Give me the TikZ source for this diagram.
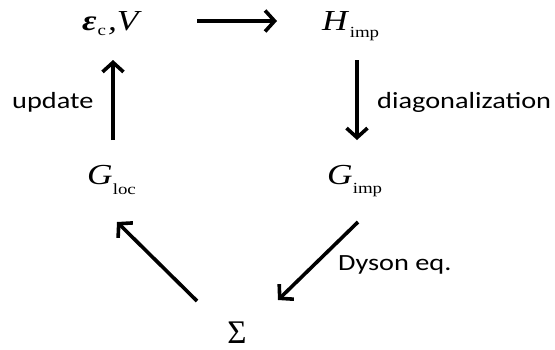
\documentclass[tikz,border=0pt]{standalone}
\usepackage{fontspec}
\usepackage{graphicx}
\setmainfont{Carlito}
\newfontfamily\tms{Liberation Serif}
\usetikzlibrary{arrows.meta,calc}
\newcommand{\mainsym}[1]{\scalebox{1.22}[1]{\fontsize{29}{29}\selectfont\tms\itshape #1}}
\newcommand{\subsym}[1]{\scalebox{1.22}[1]{\fontsize{15.5}{15.5}\selectfont\tms #1}}
\newcommand{\lbltext}[1]{\scalebox{1.22}[1]{\fontsize{23.2}{23.2}\selectfont #1}}
\tikzset{
  mth/.style={inner sep=0pt, anchor=base west},
  lbl/.style={inner sep=0pt, anchor=base west},
  arr/.style={line width=3.6pt, -{Straight Barb[length=9.5pt,width=21pt]}},
}
\begin{document}
\begin{tikzpicture}[x=1pt,y=-1pt]
\fill[white] (0,0) rectangle (555,349);
\useasboundingbox (0,0) rectangle (555,349);
\node[mth] (ev) at (82,30) {\mainsym{\bfseries ε}\hspace{1pt}\raisebox{-5pt}{\subsym{c}}\hspace{2pt}\mainsym{,V}};
\node[mth] (H) at (322,30) {\mainsym{H}\hspace{2pt}\raisebox{-7pt}{\subsym{imp}}};
\node[mth] (Gl) at (87,184) {\mainsym{G}\raisebox{-10pt}{\subsym{loc}}};
\node[mth] (Gi) at (327,184) {\mainsym{G}\raisebox{-9pt}{\subsym{imp}}};
\node[inner sep=0pt, anchor=base] (S) at (237,343) {\fontsize{33}{33}\selectfont\tms Σ};
\node[lbl] (up) at (12,108) {\lbltext{update}};
\node[lbl] (dg) at (377,108) {\lbltext{diagonalization}};
\node[lbl] (dy) at (338,270) {\lbltext{Dyson eq.}};
\draw[arr] ($(ev.base west)+(115,-9)$) -- ($(H.base west)+(-45,-9)$);
\draw[arr] ($(H.base west)+(35,30)$) -- ($(Gi.base west)+(30,-44)$);
\draw[arr] ($(Gi.base west)+(31,38)$) -- ($(S.base)+(41,-43)$);
\draw[arr] ($(S.base)+(-40,-42)$) -- ($(Gl.base west)+(30,38)$);
\draw[arr] ($(Gl.base west)+(26,-44)$) -- ($(ev.base west)+(31,30)$);
\end{tikzpicture}
\end{document}
